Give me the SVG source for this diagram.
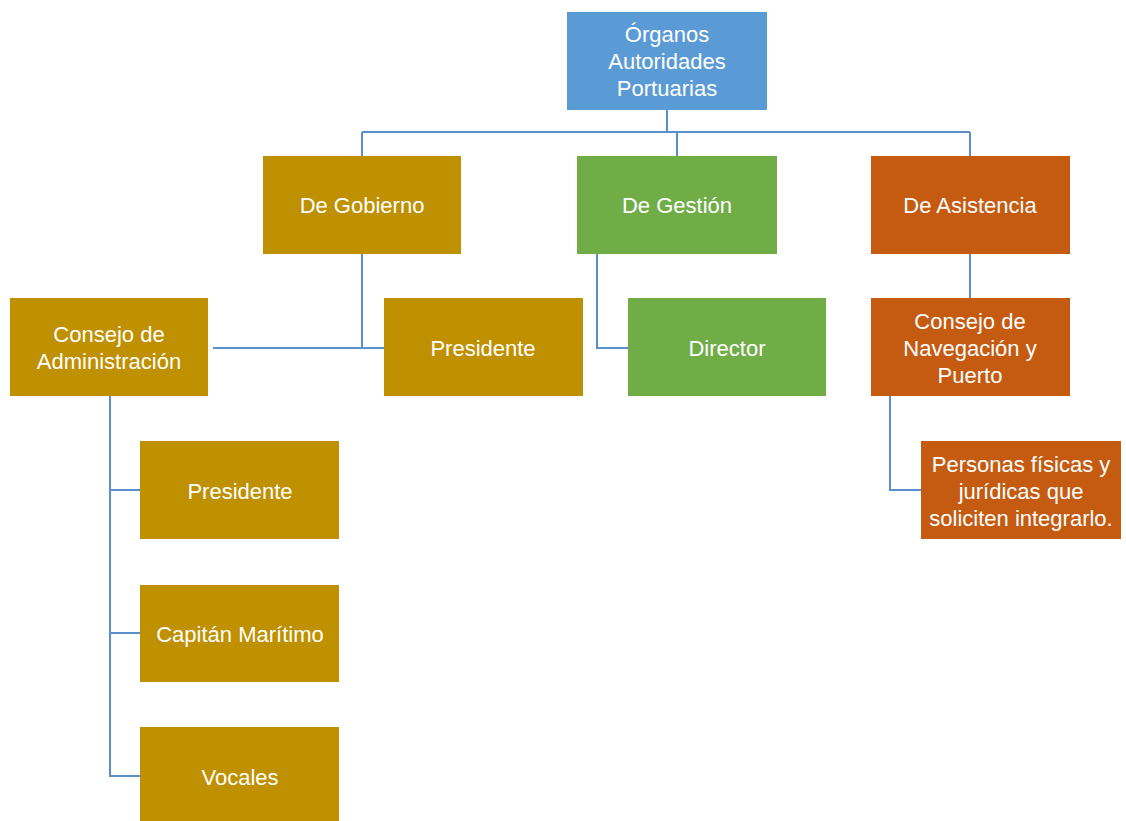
<svg xmlns="http://www.w3.org/2000/svg" width="1126" height="821" viewBox="0 0 1126 821">
<style>
.t{font-family:"Liberation Sans",Arial,sans-serif;font-size:22px;fill:#fff;text-anchor:middle}
.blue{fill:#5B9BD5}.gold{fill:#BF9000}.green{fill:#70AD47}.orange{fill:#C55A11}
.c{fill:none;stroke:#5B8FC9;stroke-width:2}
</style>
<rect width="1126" height="821" fill="#fff"/>
<g id="connectors">
<path class="c" d="M667,110V132M362,132H970M362,132V156M677,132V156M970,132V156"/>
<path class="c" d="M362,254V348M213,348H384"/>
<path class="c" d="M597,254V348H628"/>
<path class="c" d="M970,254V298"/>
<path class="c" d="M890,396V490H921"/>
<path class="c" d="M110,396V776H140M110,490H140M110,633H140"/>
</g>
<g id="root"><rect class="blue" x="567" y="12" width="200" height="98"/>
<text class="t" x="667" y="42">Órganos</text><text class="t" x="667" y="69">Autoridades</text><text class="t" x="667" y="96">Portuarias</text></g>
<g id="gobierno"><rect class="gold" x="263" y="156" width="198" height="98"/><text class="t" x="362" y="213">De Gobierno</text></g>
<g id="gestion"><rect class="green" x="577" y="156" width="200" height="98"/><text class="t" x="677" y="213">De Gestión</text></g>
<g id="asistencia"><rect class="orange" x="871" y="156" width="199" height="98"/><text class="t" x="970" y="213">De Asistencia</text></g>
<g id="consejo-admin"><rect class="gold" x="10" y="298" width="198" height="98"/><text class="t" x="109" y="342">Consejo de</text><text class="t" x="109" y="369">Administración</text></g>
<g id="presidente1"><rect class="gold" x="384" y="298" width="199" height="98"/><text class="t" x="483" y="356">Presidente</text></g>
<g id="director"><rect class="green" x="628" y="298" width="198" height="98"/><text class="t" x="727" y="356">Director</text></g>
<g id="consejo-nav"><rect class="orange" x="871" y="298" width="199" height="98"/><text class="t" x="970" y="329">Consejo de</text><text class="t" x="970" y="356">Navegación y</text><text class="t" x="970" y="383">Puerto</text></g>
<g id="personas"><rect class="orange" x="921" y="441" width="200" height="98"/><text class="t" x="1021" y="472">Personas físicas y</text><text class="t" x="1021" y="499">jurídicas que</text><text class="t" x="1021" y="526">soliciten integrarlo.</text></g>
<g id="presidente2"><rect class="gold" x="140" y="441" width="199" height="98"/><text class="t" x="240" y="499">Presidente</text></g>
<g id="capitan"><rect class="gold" x="140" y="585" width="199" height="97"/><text class="t" x="240" y="642">Capitán Marítimo</text></g>
<g id="vocales"><rect class="gold" x="140" y="727" width="199" height="94"/><text class="t" x="240" y="785">Vocales</text></g>
</svg>
